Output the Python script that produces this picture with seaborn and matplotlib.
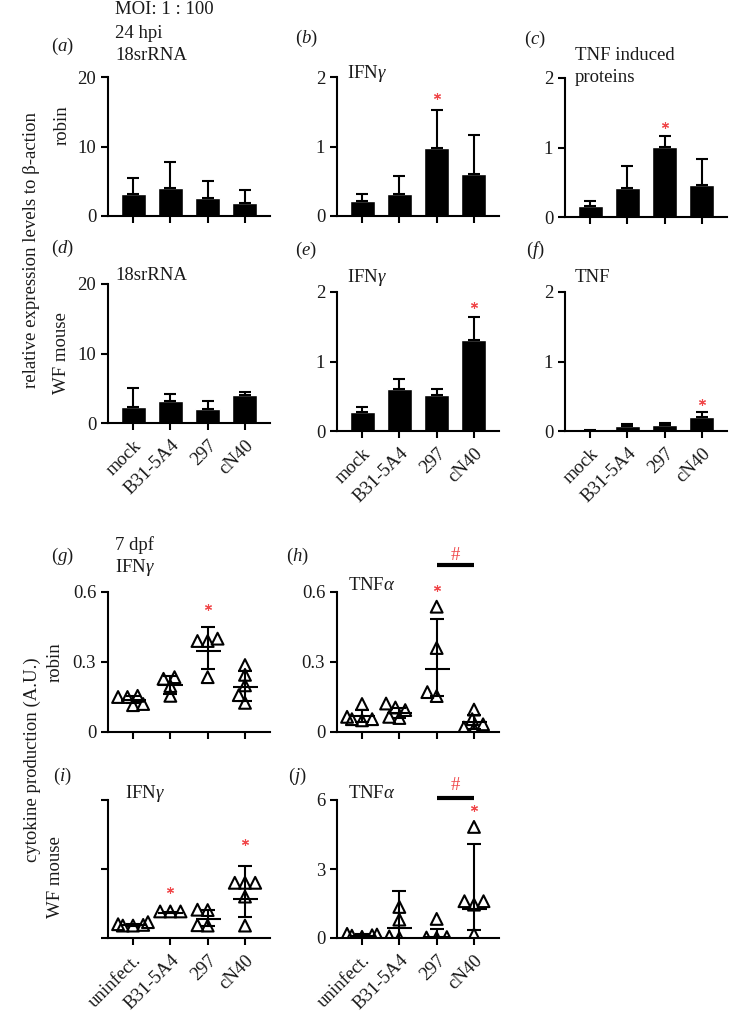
import numpy as np
import pandas as pd
import seaborn as sns
import matplotlib.pyplot as plt

# ---- data ----
# qPCR at 24 hpi: bar = mean, whisker = upper end (mean + SD)
qpcr_cats = ['mock', 'B31-5A4', '297', 'cN40']
robin_18s = [3.2, 4.1, 2.6, 1.9]
robin_18s_top = [5.4, 7.8, 5.0, 3.7]
robin_ifng = [0.22, 0.31, 0.98, 0.60]
robin_ifng_top = [0.32, 0.58, 1.53, 1.16]
robin_tnfip = [0.16, 0.42, 1.01, 0.46]
robin_tnfip_top = [0.23, 0.73, 1.16, 0.84]
mouse_18s = [2.35, 3.1, 2.05, 4.0]
mouse_18s_top = [5.0, 4.2, 3.2, 4.4]
mouse_ifng = [0.28, 0.60, 0.52, 1.31]
mouse_ifng_top = [0.35, 0.745, 0.61, 1.64]
mouse_tnf = [0.005, 0.07, 0.09, 0.196]
mouse_tnf_top = [0.012, 0.105, 0.12, 0.267]

# cytokine production at 7 dpf: single animals, centre line and whiskers
elisa_cats = ['uninfect.', 'B31-5A4', '297', 'cN40']
g_pts = [[0.15, 0.155, 0.15, 0.12, 0.115], [0.155, 0.235, 0.197, 0.228],
         [0.39, 0.39, 0.40, 0.235], [0.125, 0.245, 0.287, 0.158, 0.20]]
g_mid = [0.138, 0.202, 0.347, 0.194]
g_lo = [0.125, 0.162, 0.268, 0.135]
g_hi = [0.155, 0.241, 0.449, 0.262]

h_pts = [[0.12, 0.055, 0.05, 0.055, 0.065], [0.122, 0.094, 0.065, 0.06, 0.105],
         [0.537, 0.36, 0.154, 0.171], [0.096, 0.055, 0.033, 0.019, 0.014]]
h_mid = [0.069, 0.082, 0.27, 0.042]
h_lo = [0.045, 0.06, 0.155, 0.013]
h_hi = [0.095, 0.105, 0.486, 0.072]

i_pts = [[0.23, 0.2, 0.18, 0.19, 0.18], [0.385, 0.385, 0.385],
         [0.405, 0.41, 0.18, 0.185], [0.80, 0.80, 0.80, 0.60, 0.18]]
i_mid = [0.19, 0.365, 0.28, 0.57]
i_lo = [0.17, 0.36, 0.18, 0.31]
i_hi = [0.21, 0.37, 0.405, 1.05]

j_pts = [[0.15, 0.1, 0.05, 0.12, 0.18], [1.35, 0.8, 0.07, 0.0],
         [0.83, 0.04, 0.01, 0.02], [4.83, 1.6, 1.6, 1.45, 0.15]]
j_mid = [0.1, 0.45, 0.05, 1.28]
j_lo = [0.03, 0.0, 0.0, 0.36]
j_hi = [0.17, 2.06, 0.41, 4.09]

RED = '#f0474a'
W, H = 732, 1026
FS = 13.5

sns.set_style('ticks')
plt.rcParams['font.family'] = ['Liberation Serif', 'DejaVu Serif']
plt.rcParams['mathtext.fontset'] = 'custom'
plt.rcParams['mathtext.rm'] = 'Liberation Serif'
plt.rcParams['mathtext.it'] = 'Liberation Serif:italic'
plt.rcParams['text.color'] = '#1a1a1a'

fig = plt.figure(figsize=(W / 100, H / 100), dpi=100)
swarms = []


def axes_px(left, right, y0, ytop):
    return fig.add_axes([left / W, 1 - y0 / H, (right - left) / W, (y0 - ytop) / H])


def txt(x, y, s, **kw):
    kw.setdefault('fontsize', FS)
    fig.text(x / W, 1 - y / H, s, **kw)


def style(ax, ymax, yticks, cats, show_x, show_y=True):
    ax.set_ylim(0, ymax)
    ax.set_xlim(-0.67, 3.67)
    ax.set_yticks(yticks)
    if not show_y:
        ax.set_yticklabels([])
    ax.set_xticks(range(4))
    if show_x:
        ax.set_xticklabels(cats, rotation=45, ha='right', rotation_mode='anchor')
    else:
        ax.set_xticklabels([])
    ax.set_xlabel('')
    ax.set_ylabel('')
    sns.despine(ax=ax)
    for sp in ['left', 'bottom']:
        ax.spines[sp].set_linewidth(1.5)
        ax.spines[sp].set_color('black')
    ax.tick_params(length=5, width=1.5, labelsize=FS, colors='black', labelcolor='#1a1a1a')
    ax.tick_params(axis='x', pad=5)


def bar_panel(ax, means, tops, ymax, yticks, show_x):
    sns.barplot(x=qpcr_cats, y=means, color='black', width=0.67, saturation=1,
                errorbar=None, ax=ax)
    up = np.array(tops) - np.array(means)
    ax.errorbar(range(4), means, yerr=[np.zeros(4), up], fmt='none', ecolor='black',
                elinewidth=1.5, capsize=4.5, capthick=1.5)
    style(ax, ymax, yticks, qpcr_cats, show_x)


def dot_panel(ax, pts, mid, lo, hi, ymax, yticks, show_x, show_y=True):
    df = pd.DataFrame({'grp': [c for c, p in zip(elisa_cats, pts) for _ in p],
                       'val': [v for p in pts for v in p]})
    ax.set_ylim(0, ymax)
    # swarm laid out with small markers so the triangles overlap a bit, as in Prism
    sns.swarmplot(data=df, x='grp', y='val', order=elisa_cats, marker='^', size=5.5,
                  color='black', edgecolor='black', linewidth=1.5, warn_thresh=1, ax=ax)
    for coll in ax.collections:
        coll.set_facecolor('none')
        coll.set_edgecolor('black')
        swarms.append(coll)
    mid = np.array(mid)
    ax.errorbar(range(4), mid, yerr=[mid - np.array(lo), np.array(hi) - mid], fmt='_',
                ms=18, mew=1.5, color='black', elinewidth=1.5, capsize=5, capthick=1.5)
    style(ax, ymax, yticks, elisa_cats, show_x, show_y)


def star(ax, x, y):
    ax.plot([x], [y], ls='none', marker=(6, 2, 0), ms=5, mew=0.8, color=RED, clip_on=False)


def hash_bar(ax, y_bar, y_txt):
    ax.plot([2, 3], [y_bar, y_bar], color='black', lw=3, solid_capstyle='butt', clip_on=False)
    ax.text(2.5, y_txt, '#', color=RED, ha='center', va='baseline', fontsize=FS)


# ---- row 1: robin qPCR ----
ax_a = axes_px(108, 270, 216, 77)
bar_panel(ax_a, robin_18s, robin_18s_top, 20, [0, 10, 20], False)
ax_b = axes_px(337, 499, 216, 77)
bar_panel(ax_b, robin_ifng, robin_ifng_top, 2, [0, 1, 2], False)
star(ax_b, 2, 1.73)
ax_c = axes_px(565, 727, 217, 78)
bar_panel(ax_c, robin_tnfip, robin_tnfip_top, 2, [0, 1, 2], False)
star(ax_c, 2, 1.33)

# ---- row 2: mouse qPCR ----
ax_d = axes_px(108, 270, 423, 284)
bar_panel(ax_d, mouse_18s, mouse_18s_top, 20, [0, 10, 20], True)
ax_e = axes_px(337, 499, 431, 292)
bar_panel(ax_e, mouse_ifng, mouse_ifng_top, 2, [0, 1, 2], True)
star(ax_e, 3, 1.81)
ax_f = axes_px(565, 727, 431, 292)
bar_panel(ax_f, mouse_tnf, mouse_tnf_top, 2, [0, 1, 2], True)
star(ax_f, 3, 0.42)

# ---- row 3: robin cytokines ----
ax_g = axes_px(108, 270, 732, 592)
dot_panel(ax_g, g_pts, g_mid, g_lo, g_hi, 0.6, [0, 0.3, 0.6], False)
ax_g.set_yticklabels(['0', '0.3', '0.6'])
star(ax_g, 2, 0.535)
ax_h = axes_px(337, 499, 732, 592)
dot_panel(ax_h, h_pts, h_mid, h_lo, h_hi, 0.6, [0, 0.3, 0.6], False)
ax_h.set_yticklabels(['0', '0.3', '0.6'])
star(ax_h, 2, 0.616)
hash_bar(ax_h, 0.716, 0.737)

# ---- row 4: mouse cytokines ----
ax_i = axes_px(108, 270, 938, 800)
dot_panel(ax_i, i_pts, i_mid, i_lo, i_hi, 2, [0, 1, 2], True, show_y=False)
star(ax_i, 1, 0.69)
star(ax_i, 3, 1.39)
ax_j = axes_px(337, 499, 938, 800)
dot_panel(ax_j, j_pts, j_mid, j_lo, j_hi, 6, [0, 3, 6], True)
star(ax_j, 3, 5.64)
hash_bar(ax_j, 6.09, 6.42)

# ---- texts ----
txt(115, 10, 'MOI: 1 : 100', va='center')
txt(115, 33, '24 hpi', va='center')
txt(115, 56, '18srRNA', va='center')
txt(62, 46, r'($a$)', va='center', ha='center')
txt(306, 38, r'($b$)', va='center', ha='center')
txt(535, 39, r'($c$)', va='center', ha='center')
txt(347, 74, r'IFN$\gamma$', va='center')
txt(575, 55, 'TNF induced', va='center')
txt(575, 78, 'proteins', va='center')

txt(62, 248, r'($d$)', va='center', ha='center')
txt(306, 250, r'($e$)', va='center', ha='center')
txt(535, 250, r'($f$)', va='center', ha='center')
txt(115, 276, '18srRNA', va='center')
txt(347, 277, r'IFN$\gamma$', va='center')
txt(575, 277, 'TNF', va='center')

txt(62, 556, r'($g$)', va='center', ha='center')
txt(115, 545, '7 dpf', va='center')
txt(115, 568, r'IFN$\gamma$', va='center')
txt(297, 556, r'($h$)', va='center', ha='center')
txt(348, 585, r'TNF$\alpha$', va='center')

txt(62, 776, r'($i$)', va='center', ha='center')
txt(125, 793, r'IFN$\gamma$', va='center')
txt(297, 776, r'($j$)', va='center', ha='center')
txt(348, 793, r'TNF$\alpha$', va='center')

txt(32, 250, 'relative expression levels to β-action', rotation=90, va='center', ha='center')
txt(62, 125, 'robin', rotation=90, va='center', ha='center')
txt(62, 353, 'WF mouse', rotation=90, va='center', ha='center')
txt(32, 760, 'cytokine production (A.U.)', rotation=90, va='center', ha='center')
txt(55, 662, 'robin', rotation=90, va='center', ha='center')
txt(55, 877, 'WF mouse', rotation=90, va='center', ha='center')

# lay out the swarms once, then freeze them and enlarge the triangles
fig.canvas.draw()
for coll in swarms:
    coll.__dict__.pop('draw', None)
    coll.set_sizes([8.5 ** 2])

fig.savefig('out.png', dpi=100)
